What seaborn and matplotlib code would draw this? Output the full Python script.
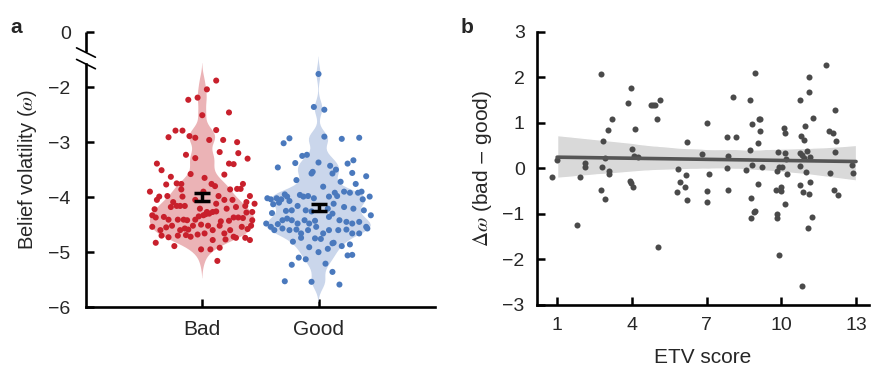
import numpy as np
import pandas as pd
import matplotlib
matplotlib.use("Agg")
import matplotlib.pyplot as plt
import matplotlib.transforms as mtransforms
import seaborn as sns

# ---- panel a: belief volatility per condition (jitter offset, value) ----
bad_offset = [0.12, 0.04, -0.04, -0.12, 0.00, 0.23, -0.23, -0.17, -0.29, -0.11, -0.06, 0.06, 0.18, 0.30,
              0.12, -0.39, -0.35, -0.14, -0.06, 0.15, 0.31, 0.23, 0.27, 0.39, -0.10, -0.27, 0.02, 0.19,
              -0.31, -0.22, -0.18, 0.08, -0.18, 0.11, 0.35, 0.30, 0.33, -0.45,
              -0.37, -0.30, -0.17, 0.14, 0.19, 0.26, 0.41, 0.45, -0.41, -0.27, -0.22, -0.19, -0.15,
              0.04, 0.09, 0.12, 0.29, 0.37, 0.43, -0.43, -0.40, -0.33, -0.29, -0.21, -0.16, -0.13,
              -0.06, -0.03, 0.01, 0.03, 0.06, 0.16, 0.23, 0.27, 0.31, 0.35, 0.38, 0.43, -0.43, -0.36,
              -0.31, -0.26, -0.19, -0.15, -0.12, -0.08, -0.01, 0.05, 0.09, 0.15, 0.19, 0.24, 0.29,
              0.34, 0.39, 0.42, -0.40, -0.35, -0.29, -0.21, -0.14, -0.10, -0.04, 0.02, 0.09, 0.20,
              0.27, 0.37, 0.41, -0.24, -0.01, 0.07, 0.15, 0.13,
              0.01, -0.06, 0.24, -0.39, -0.25, -0.02, 0.38, 0.21, 0.12]
bad_value = [-1.88, -2.04, -2.19, -2.23, -2.51, -2.46, -2.79, -2.79, -2.91, -2.89, -2.92, -2.96, -2.96, -3.00,
             -2.78, -3.39, -3.51, -3.23, -3.29, -3.18, -3.20, -3.39, -3.40, -3.30, -3.58, -3.63, -3.65, -3.59,
             -3.77, -3.75, -3.76, -3.76, -3.86, -3.80, -3.76, -3.85, -3.85, -3.90,
             -3.99, -3.98, -3.99, -3.98, -4.05, -4.05, -3.98, -4.12, -4.22, -4.18, -4.16, -4.16, -4.16,
             -4.27, -4.27, -4.26, -4.18, -4.16, -4.27, -4.33, -4.37, -4.36, -4.41, -4.41, -4.41, -4.42,
             -4.41, -4.35, -4.33, -4.31, -4.30, -4.44, -4.43, -4.37, -4.37, -4.38, -4.28, -4.42, -4.54, -4.60,
             -4.55, -4.52, -4.60, -4.57, -4.59, -4.52, -4.50, -4.52, -4.60, -4.52, -4.66, -4.60, -4.74,
             -4.54, -4.58, -4.52, -4.83, -4.70, -4.73, -4.70, -4.69, -4.72, -4.68, -4.66, -4.78, -4.77,
             -4.72, -4.74, -4.78, -4.89, -4.95, -4.95, -4.92, -5.16,
             -3.90, -4.05, -3.86, -4.05, -4.09, -4.21, -4.09, -4.21, -4.12]

good_offset = [0.00, -0.04, 0.05, 0.05, -0.25, -0.30, 0.20, 0.35, -0.14, -0.10, 0.00, -0.20, -0.35, 0.10,
               0.25, 0.30, 0.15, -0.06, -0.05, 0.12, 0.29, 0.41, -0.19, 0.19, 0.04, 0.32,
               -0.44, -0.41, -0.36, -0.32, -0.29, -0.27, -0.39, -0.34, -0.25, -0.16, -0.13, -0.09, -0.04,
               0.09, 0.14, 0.16, 0.22, 0.27, 0.34, 0.37, 0.44, 0.38, -0.40, -0.28, -0.23, -0.18, -0.11,
               -0.06, 0.08, 0.13, 0.22, 0.30, 0.39, 0.45, -0.45, -0.41, -0.35, -0.31, -0.27, -0.23, -0.18,
               -0.12, -0.08, -0.03, 0.09, 0.18, 0.24, 0.29, 0.35, 0.41, 0.42, -0.38, -0.31, -0.25, -0.19,
               -0.15, -0.09, -0.02, 0.04, 0.09, 0.17, 0.24, 0.29, 0.35, -0.22, -0.15, -0.03, 0.02, 0.12,
               0.13, 0.20, 0.27, 0.25, 0.29, 0.00, -0.17, -0.11, -0.23, 0.06, 0.12, -0.29, -0.06, 0.18,
               -0.08, 0.08, 0.12]
good_value = [-1.76, -2.36, -2.41, -2.90, -2.93, -3.02, -2.94, -2.92, -3.25, -3.23, -3.37, -3.38, -3.46, -3.43,
              -3.39, -3.33, -3.50, -3.57, -3.54, -3.57, -3.56, -3.62, -3.69, -3.72, -3.81, -3.76,
              -4.02, -4.04, -4.02, -4.04, -3.95, -3.99, -4.13, -4.10, -4.07, -3.96, -3.99, -3.98, -4.02,
              -3.99, -3.92, -3.98, -3.90, -3.92, -3.92, -3.90, -3.99, -4.04, -4.29, -4.25, -4.24, -4.16, -4.24,
              -4.26, -4.21, -4.12, -4.18, -4.21, -4.24, -4.33, -4.48, -4.54, -4.49, -4.42, -4.39, -4.42, -4.48,
              -4.42, -4.48, -4.43, -4.36, -4.42, -4.45, -4.48, -4.45, -4.54, -4.57, -4.60, -4.57, -4.60, -4.59,
              -4.66, -4.60, -4.54, -4.66, -4.60, -4.60, -4.59, -4.66, -4.66, -4.81, -4.74, -4.75, -4.76, -4.84,
              -4.83, -4.89, -4.86, -5.06, -5.05, -5.00, -5.10, -5.13, -5.23, -5.21, -5.36, -5.53, -5.54, -5.59,
              -4.91, -4.94, -4.30]

conditions = ["Bad", "Good"]
cond_mean = [-4.00, -4.19]
cond_sem = [0.075, 0.07]

# ---- panel b: ETV score vs delta omega ----
etv_score = [0.80, 1.00, 1.79, 1.93, 2.13, 2.14, 2.77, 2.77, 2.79, 2.85, 2.92, 2.92, 3.03, 3.08, 3.08, 3.20,
             3.86, 3.95, 3.94, 3.97, 3.99, 4.05, 4.11, 4.09, 4.23, 4.78, 4.84, 4.93, 5.03, 5.12, 5.04,
             5.87, 5.82, 5.93, 6.14, 6.17, 6.21, 6.21, 6.83, 7.03, 7.01, 7.00, 7.11, 7.81, 7.84, 7.85, 7.87,
             8.06, 8.19, 8.58, 8.76, 8.79, 8.80, 8.76, 8.81, 8.84, 8.89, 8.95, 8.95, 9.05, 9.08, 9.11, 9.15,
             9.15, 9.23, 9.78, 9.81, 9.82, 9.83, 9.87, 9.90, 9.91, 9.98, 10.00, 10.03, 10.11, 10.13, 10.15,
             10.16, 10.17, 10.21, 10.77, 10.75, 10.77, 10.77, 10.81, 10.84, 10.85, 10.87, 10.91, 10.93, 10.97,
             11.01, 11.04, 11.07, 11.11, 11.13, 11.13, 11.15, 11.17, 11.23, 11.26, 11.81, 11.90, 11.97, 12.06,
             12.14, 12.14, 12.11, 12.18, 12.27, 12.83, 12.89]
delta_omega = [-0.20, 0.18, -1.24, -0.20, 0.04, 0.11, 2.08, -0.47, 0.04, 0.61, -0.67, 0.22, 0.84, -0.06, -0.13,
               1.09, 1.44, 1.76, -0.28, -0.33, 0.42, -0.42, 0.86, 0.27, 0.26, 1.39, 1.39, 1.39, 1.08, 1.50, -1.72,
               -0.01, -0.53, -0.31, -0.40, -0.15, -0.69, 0.57, 0.32, 0.99, -0.50, -0.73, -0.13, 0.69, 0.00, -0.47,
               0.28, 1.57, 0.69, -0.04, 1.50, -0.65, -1.10, 0.40, 0.97, 0.07, -0.96, -0.93, 2.09, 0.55, -0.34,
               1.08, 1.09, 0.83, 0.04, -0.47, -1.01, -1.10, -0.05, 0.37, 0.04, -1.90, -0.40, -0.50, 0.04, 0.88,
               0.77, -0.79, 0.33, 0.20, -0.13, 1.50, 0.34, -0.37, 0.06, 0.70, 0.29, -2.58, -0.51, 0.62, 0.22,
               0.93, -0.07, 0.39, -1.32, -0.57, 1.68, 2.01, 0.26, -0.31, -1.06, 1.10, 2.27, 0.82, -0.11, 0.77,
               1.28, 0.35, -0.47, 0.61, -0.58, 0.07, -0.11]

violin_colors = {"Bad": "#ebb3b6", "Good": "#cad6eb"}
dot_colors = {"Bad": "#c8202c", "Good": "#4a79bd"}

sns.set_style("white")
plt.rcParams["font.family"] = ["Liberation Sans", "DejaVu Sans"]
plt.rcParams["mathtext.fontset"] = "stix"
plt.rcParams["xtick.bottom"] = True
plt.rcParams["ytick.left"] = True

df_a = pd.DataFrame({
    "group": ["Bad"] * len(bad_value) + ["Good"] * len(good_value),
    "offset": bad_offset + good_offset,
    "value": bad_value + good_value,
})
df_a["pos"] = df_a["group"].map({c: i for i, c in enumerate(conditions)}) + df_a["offset"]
df_b = pd.DataFrame({"etv": etv_score, "delta": delta_omega})

fig = plt.figure(figsize=(8.72, 3.70), dpi=100)
ax1 = fig.add_axes([0.0986, 0.170, 0.400, 0.743])
ax2 = fig.add_axes([0.616, 0.176, 0.380, 0.738])

# panel a
sns.violinplot(data=df_a, x="group", y="value", hue="group", order=conditions, palette=violin_colors,
               inner=None, linewidth=0, bw_adjust=0.5, cut=2.4, width=0.9, density_norm="width",
               saturation=1, legend=False, ax=ax1)
for coll in ax1.collections:
    coll.set_edgecolor("none")
sns.scatterplot(data=df_a, x="pos", y="value", hue="group", palette=dot_colors, s=19, linewidth=0,
                legend=False, ax=ax1, zorder=3)
ax1.errorbar(x=[0, 1], y=cond_mean, yerr=cond_sem, fmt="none", ecolor="black", elinewidth=2.5,
             capsize=5.5, capthick=2.5, zorder=5)

ax1.set_xlim(-1, 2)
ax1.set_ylim(-6, -1)
ax1.set_yticks([-6, -5, -4, -3, -2, -1])
ax1.set_yticklabels(["\u22126", "\u22125", "\u22124", "\u22123", "\u22122", "0"])
ax1.set_xticks([0, 1])
ax1.set_xticklabels(conditions)
ax1.set_xlabel("")
ax1.set_ylabel(r"Belief volatility ($\omega$)", fontsize=14.5, labelpad=7)

# broken y axis near zero
ax1.spines["top"].set_visible(False)
ax1.spines["right"].set_visible(False)
ax1.spines["left"].set_bounds(-6, -1.58)
trans = mtransforms.blended_transform_factory(ax1.transAxes, ax1.transData)
ax1.plot([0, 0], [-1.36, -1], transform=trans, color="black", lw=1.9, clip_on=False,
         solid_capstyle="butt")
for yc in (-1.37, -1.58):
    ax1.plot([-0.027, 0.027], [yc + 0.085, yc - 0.085], transform=trans, color="black", lw=1.2,
             clip_on=False)

# panel b
ax2.set_xlim(1, 13)
sns.regplot(data=df_b, x="etv", y="delta", ci=99, n_boot=2000, seed=3, truncate=False, color="#4a4a4a",
            scatter_kws=dict(s=19, linewidths=0, alpha=1, zorder=3),
            line_kws=dict(lw=2.6, color="#555555", zorder=4), ax=ax2)
for coll in ax2.collections:
    if type(coll).__name__ != "PathCollection":
        coll.set_facecolor("#d9d9d9")
        coll.set_alpha(1)
        coll.set_zorder(1)
ax2.set_xlim(0.2, 13.5)
ax2.set_ylim(-3, 3)
ax2.set_xticks([1, 4, 7, 10, 13])
ax2.set_yticks([-3, -2, -1, 0, 1, 2, 3])
ax2.set_yticklabels(["\u22123", "\u22122", "\u22121", "0", "1", "2", "3"])
ax2.set_xlabel("ETV score", fontsize=15, labelpad=10)
ax2.set_ylabel(r"$\Delta\omega$ (bad $-$ good)", fontsize=15, labelpad=6)
ax2.spines["top"].set_visible(False)
ax2.spines["right"].set_visible(False)

for ax in (ax1, ax2):
    for side in ("left", "bottom"):
        ax.spines[side].set_linewidth(1.9)
        ax.spines[side].set_color("black")
    ax.tick_params(which="major", direction="in", length=5.5, width=1.8, labelsize=14, color="black",
                   left=True, bottom=True)
ax1.tick_params(axis="y", pad=11)
ax1.tick_params(axis="x", pad=9, labelsize=15)
ax2.tick_params(axis="y", pad=9)
ax2.tick_params(axis="x", pad=9)

fig.text(0.012, 0.91, "a", fontsize=15, fontweight="bold")
fig.text(0.528, 0.91, "b", fontsize=15, fontweight="bold")

fig.savefig("out.png", dpi=100)
